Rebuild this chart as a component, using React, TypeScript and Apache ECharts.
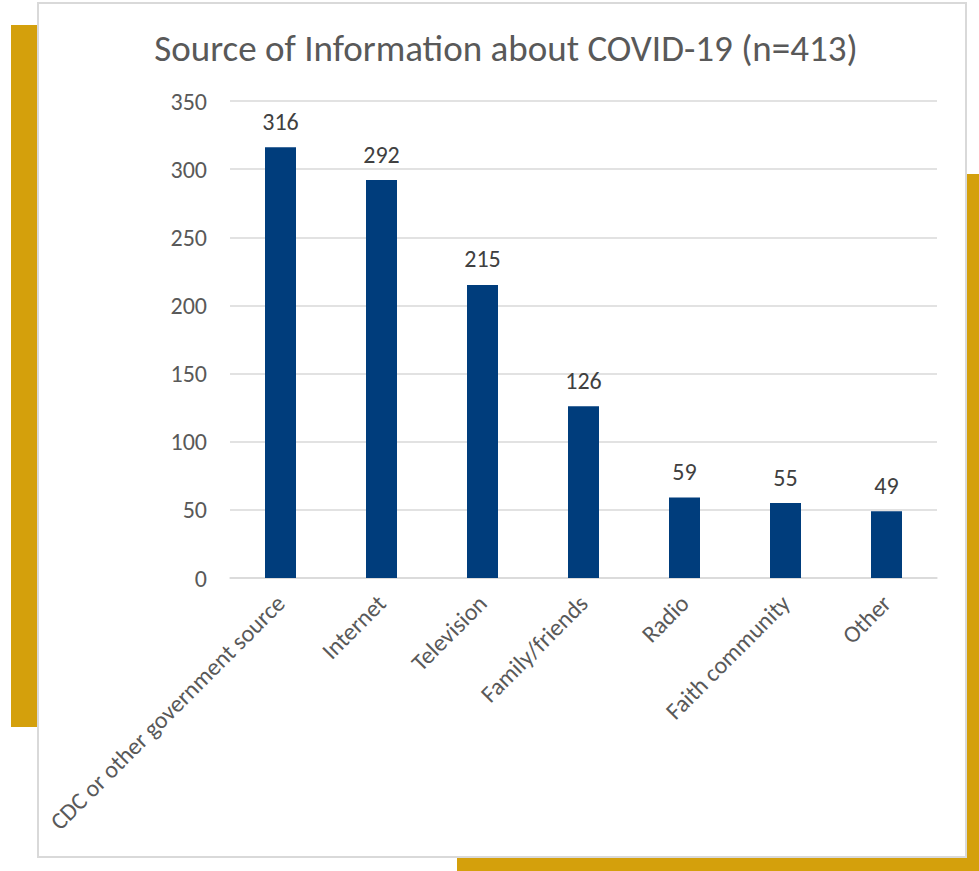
import React, { useEffect, useRef } from "react";
import * as echarts from "echarts";

const categories = [
  "CDC or other government source",
  "Internet",
  "Television",
  "Family/friends",
  "Radio",
  "Faith community",
  "Other",
];
const counts = [316, 292, 215, 126, 59, 55, 49];
const titleText = "Source of Information about COVID-19 (n=413)";

const FONT = "Carlito, Lato, 'Open Sans', sans-serif";

export default function App() {
  const ref = useRef<HTMLDivElement>(null);
  useEffect(() => {
    if (!ref.current) return;
    const chart = echarts.init(ref.current, null, { renderer: "svg" });
    chart.setOption({
      animation: false,
      backgroundColor: "transparent",
      title: {
        text: titleText,
        left: 501,
        top: 25,
        textAlign: "center",
        textStyle: { fontFamily: FONT, fontSize: 37, fontWeight: "normal", color: "#595959" },
      },
      grid: { left: 230, right: 42, top: 101, bottom: 293, containLabel: false },
      xAxis: {
        type: "category",
        data: categories,
        axisLine: { lineStyle: { color: "#d9d9d9", width: 1.5 } },
        axisTick: { show: false },
        axisLabel: {
          rotate: 45,
          margin: 21,
          interval: 0,
          fontFamily: FONT,
          fontSize: 24,
          color: "#595959",
        },
      },
      yAxis: {
        type: "value",
        min: 0,
        max: 350,
        interval: 50,
        axisLine: { show: false },
        axisTick: { show: false },
        splitLine: { lineStyle: { color: "#d9d9d9", width: 1.5 } },
        axisLabel: { margin: 23, fontFamily: FONT, fontSize: 24, color: "#595959" },
      },
      series: [
        {
          type: "bar",
          data: counts,
          barWidth: 31,
          itemStyle: { color: "#003d7c" },
          label: {
            show: true,
            position: "top",
            distance: 14,
            fontFamily: FONT,
            fontSize: 24,
            color: "#404040",
          },
        },
      ],
    });
    return () => chart.dispose();
  }, []);

  return (
    <div style={{ position: "fixed", left: 0, top: 0, width: 979, height: 871, background: "#fff", overflow: "hidden" }}>
      <div style={{ position: "absolute", left: 11, top: 25, width: 40, height: 702, background: "#d4a00c" }} />
      <div style={{ position: "absolute", left: 457, top: 174, width: 530, height: 700, background: "#d4a00c" }} />
      <div
        style={{
          position: "absolute",
          left: 37,
          top: 2,
          width: 926,
          height: 852,
          background: "#fff",
          border: "2px solid #d9d9d9",
        }}
      />
      <div ref={ref} style={{ position: "absolute", left: 0, top: 0, width: 979, height: 871 }} />
    </div>
  );
}
